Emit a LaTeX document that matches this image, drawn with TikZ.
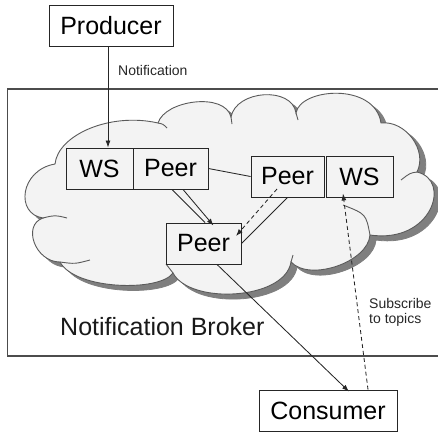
\documentclass[tikz,border=0pt]{standalone}
\usepackage{fontspec}
\setmainfont{Liberation Sans}
\usetikzlibrary{arrows.meta}
\definecolor{cloudbg}{HTML}{F3F3F3}
\definecolor{cloudsh}{HTML}{7F7F7F}
\definecolor{cloudln}{HTML}{5A5A5A}
\begin{document}
\begin{tikzpicture}[x=1pt,y=1pt,
  box/.style={draw=black!85, line width=0.9pt, inner sep=0pt, minimum height=41pt, font=\fontsize{25}{30}\selectfont},
  small/.style={font=\fontsize{14}{16}\selectfont, inner sep=0pt, text=black!85},
  big/.style={font=\fontsize{25}{30}\selectfont, inner sep=0pt, text=black!90},
  conn/.style={draw=black!85, line width=0.85pt},
  arr/.style={conn, -{Latex[length=7pt,width=5pt]}},
  dsh/.style={arr, dash pattern=on 4pt off 3pt},
  tail/.style={draw=cloudln, line width=0.9pt}
]
\useasboundingbox (0,0) rectangle (438,-432);
% broker frame
\draw[line width=1.1pt, draw=black!70] (438,-89) -- (7.5,-89) -- (7.5,-356) -- (438,-356);
% cloud shadow (outline offset by 6 right, 5 down)
\filldraw[fill=cloudsh, draw=cloudsh, line width=0.8pt] (61,-169)
 .. controls (64,-140) and (116,-117) .. (164,-128)
 .. controls (171,-105) and (231,-97) .. (237,-122)
 .. controls (242,-95) and (298,-91) .. (302,-118)
 .. controls (306,-93) and (381,-87) .. (387,-128)
 .. controls (411,-125) and (434,-155) .. (423,-177)
 .. controls (458,-185) and (438,-249) .. (376,-240)
 .. controls (374,-267) and (316,-287) .. (297,-267)
 .. controls (291,-305) and (196,-310) .. (179,-278)
 .. controls (166,-297) and (81,-295) .. (66,-267)
 .. controls (41,-267) and (28,-230) .. (49,-223)
 .. controls (21,-219) and (26,-175) .. (61,-169) -- cycle;
% cloud
\filldraw[fill=cloudbg, draw=cloudln, line width=0.9pt] (55,-164)
 .. controls (58,-135) and (110,-112) .. (158,-123)
 .. controls (165,-100) and (225,-92) .. (231,-117)
 .. controls (236,-90) and (292,-86) .. (296,-113)
 .. controls (300,-88) and (375,-82) .. (381,-123)
 .. controls (405,-120) and (428,-150) .. (417,-172)
 .. controls (452,-180) and (432,-244) .. (370,-235)
 .. controls (368,-262) and (310,-282) .. (291,-262)
 .. controls (285,-300) and (190,-305) .. (173,-273)
 .. controls (160,-292) and (75,-290) .. (60,-262)
 .. controls (35,-262) and (22,-225) .. (43,-218)
 .. controls (15,-214) and (20,-170) .. (55,-164) -- cycle;
% tails
\draw[tail] (158,-123) .. controls (163,-124) .. (167,-128);
\draw[tail] (43,-218) .. controls (55,-215) .. (67,-218);
\draw[tail] (60,-262) .. controls (75,-264) .. (90,-260);
\draw[tail] (173,-273) .. controls (170,-268) .. (166,-264);
\draw[tail] (291,-262) .. controls (292,-258) .. (293,-255);
\draw[tail] (370,-235) .. controls (366,-214) .. (343,-205);
\draw[tail] (417,-172) .. controls (410,-173) .. (401,-180);
\draw[tail] (231,-117) .. controls (232,-120) .. (232,-124);
\draw[tail] (296,-113) .. controls (297,-116) .. (298,-120);
% nodes
\node[box, minimum width=124pt] (prod) at (111,-25.5) {Producer};
\node[box, minimum width=67pt] (wsl) at (99.5,-168.5) {WS};
\node[box, minimum width=75pt] (peerl) at (170.5,-168.5) {Peer};
\node[box, minimum width=73pt] (peerr) at (287.5,-176.5) {Peer};
\node[box, minimum width=67pt] (wsr) at (359.5,-176.5) {WS};
\node[box, minimum width=75pt] (peerm) at (203.5,-243.5) {Peer};
\node[box, minimum width=138pt] (cons) at (328,-410.5) {Consumer};
\node[small, anchor=base west] (lnot) at (118,-75) {Notification};
\node[small, anchor=base west] (lsub1) at (369,-308) {Subscribe};
\node[small, anchor=base west] (lsub2) at (369,-323) {to topics};
\node[big, anchor=base west] (lbroker) at (60,-335) {Notification Broker};
% connectors
\draw[arr] ([xshift=-3pt]prod.south) -- ([xshift=-3pt]prod.south |- wsl.north);
\draw[conn] (peerl.east) -- (peerr.west);
\draw[conn] ([xshift=1.5pt]peerl.south) -- ([xshift=1.5pt]peerm.north);
\draw[arr] ([xshift=12.5pt]peerl.south) -- ([xshift=10pt,yshift=-3pt]peerm.north);
\draw[dsh] ([shift={(-10.5,-12.5)}]peerr.center) -- ([shift={(32.5,7.5)}]peerm.center);
\draw[conn] (peerr.south) -- (peerm.east);
\draw[arr] ([xshift=13.5pt]peerm.south) -- ([xshift=21pt,yshift=-2pt]cons.north);
\draw[dsh] ([xshift=40pt]cons.north) -- ([xshift=-16.5pt,yshift=4pt]wsr.south);
\end{tikzpicture}
\end{document}
